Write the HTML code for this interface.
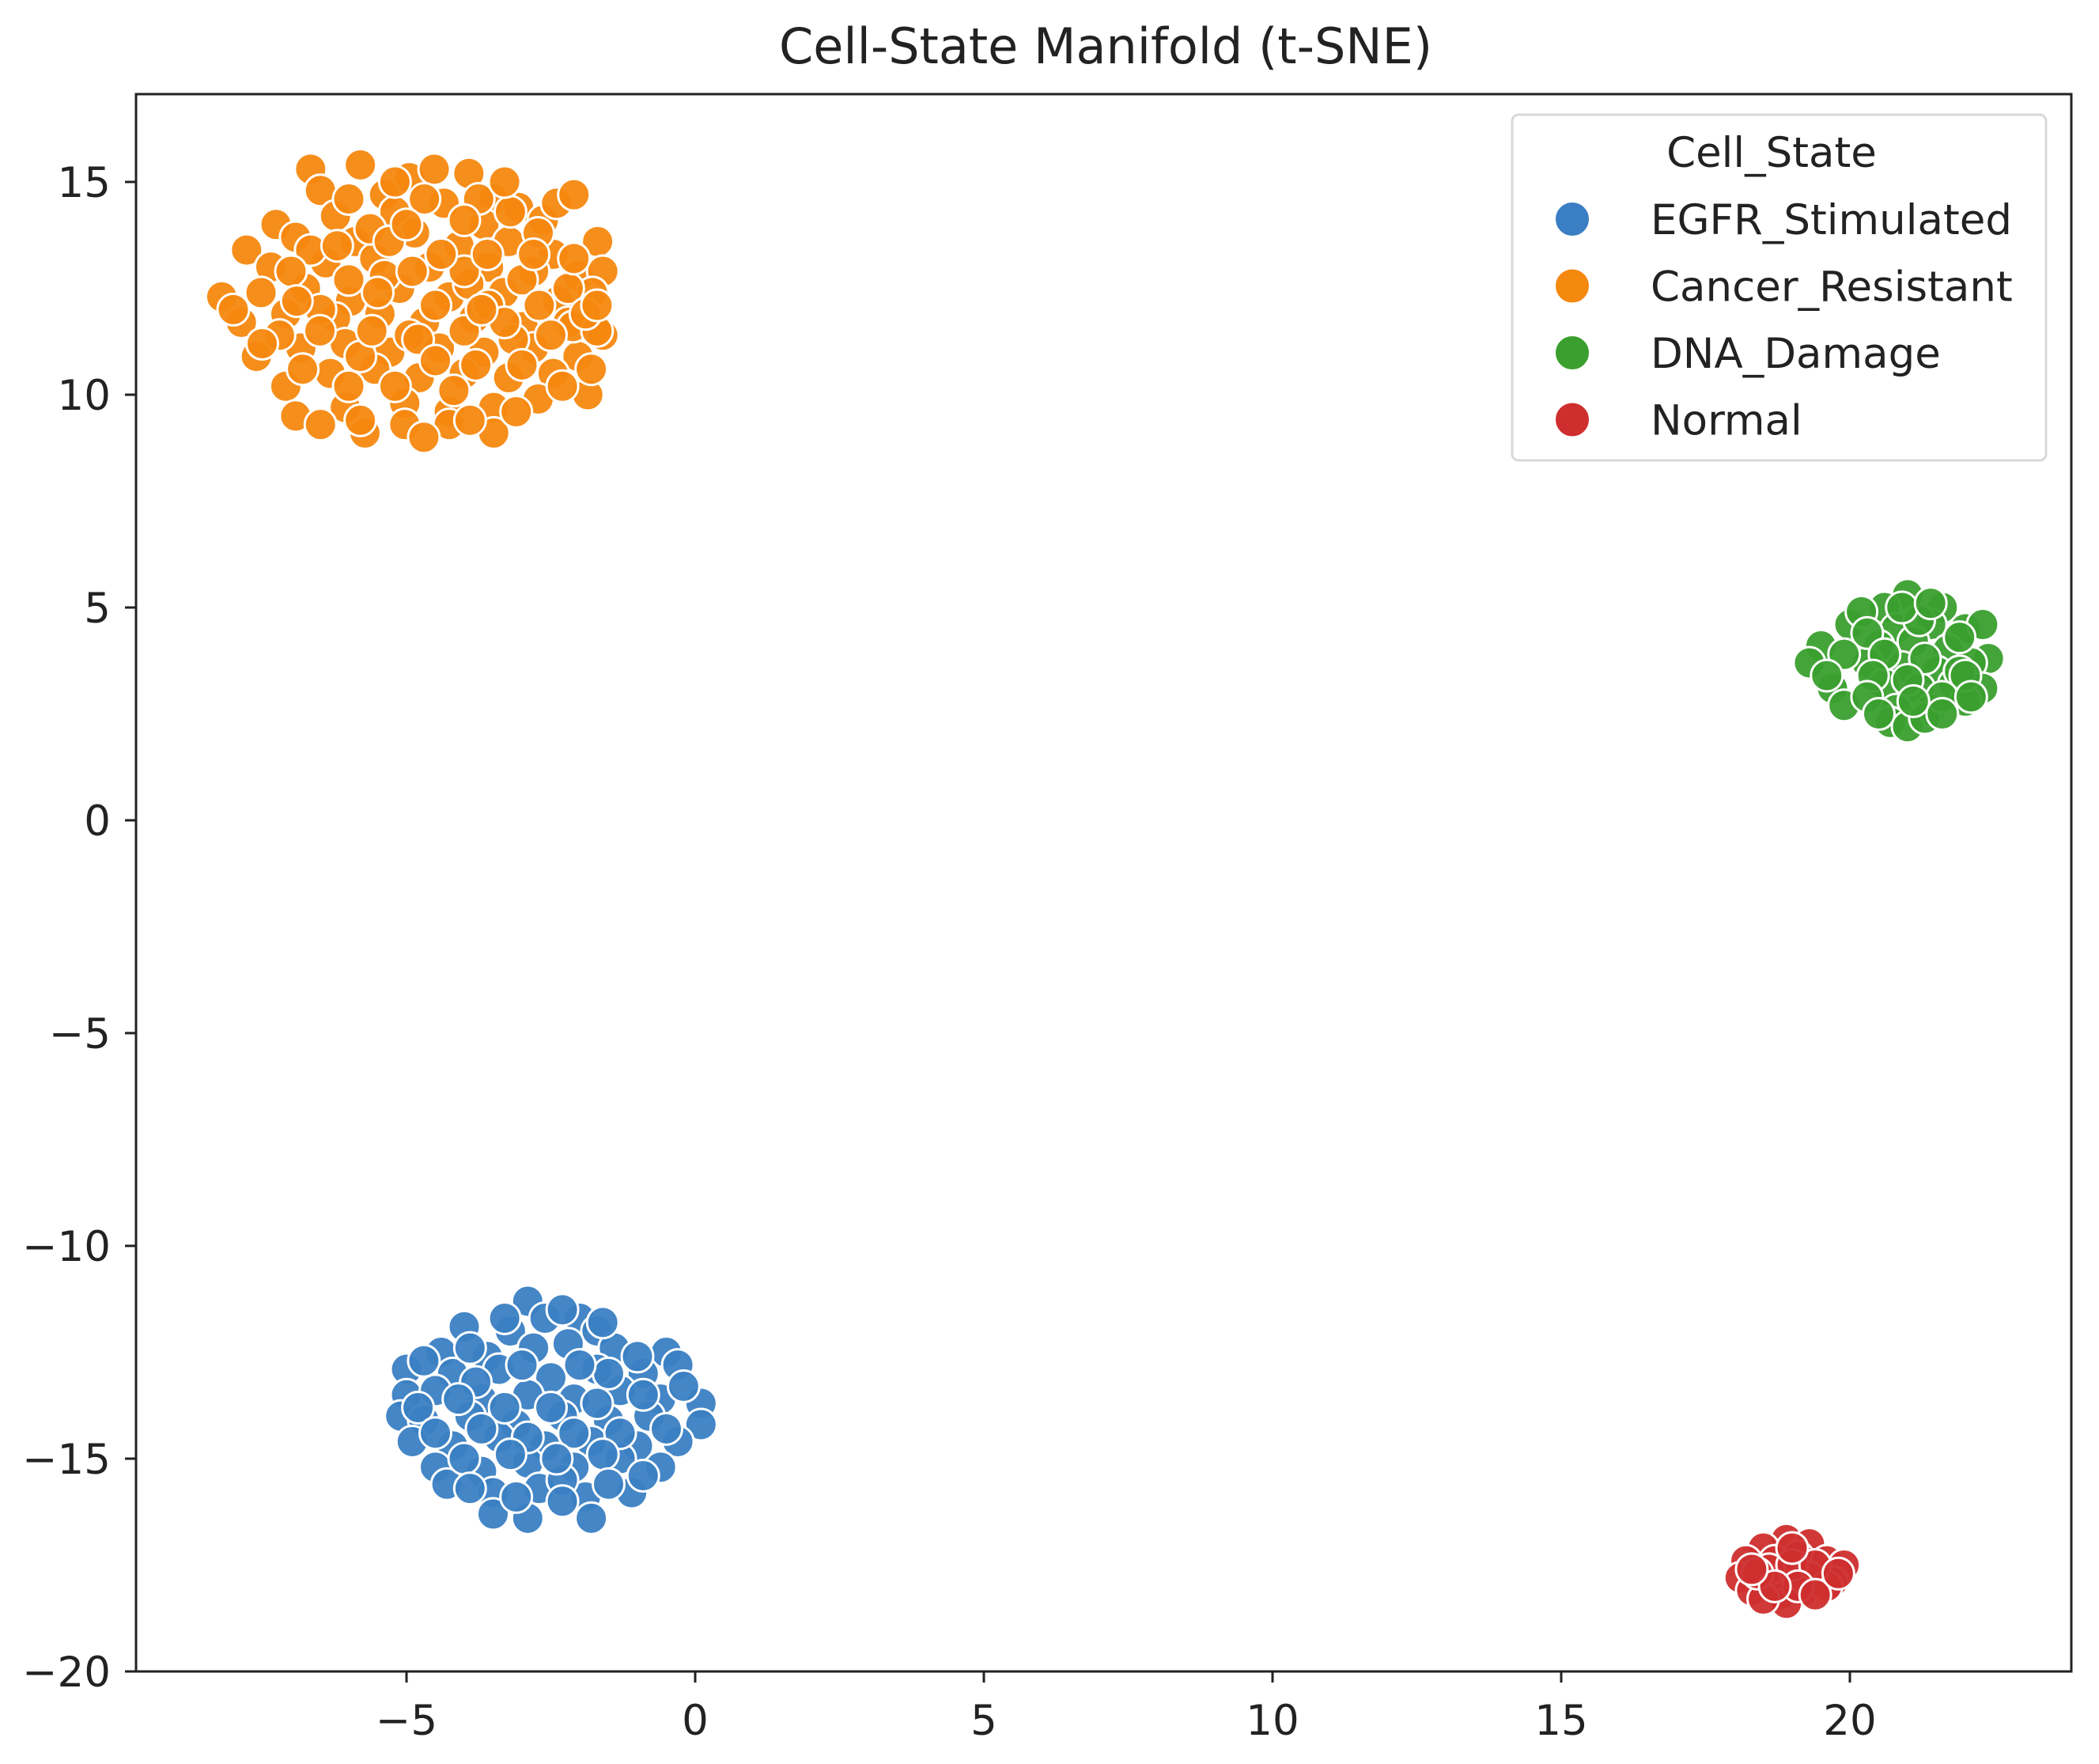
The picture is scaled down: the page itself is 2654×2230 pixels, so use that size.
<!DOCTYPE html>
<html><head><meta charset="utf-8"><style>
html,body{margin:0;padding:0;background:#fff;}
svg{display:block;font-family:"DejaVu Sans","Liberation Sans",sans-serif;}
</style></head><body>
<svg id="chart" width="2654" height="2230" viewBox="0 0 2654 2230" xmlns="http://www.w3.org/2000/svg">
<rect x="0" y="0" width="2654" height="2230" fill="#fff"/>
<text x="1398" y="80" font-size="62" text-anchor="middle" fill="#222">Cell-State Manifold (t-SNE)</text>
<g id="points"></g>
<g id="axes"></g>
<g>
<rect x="1912" y="145" width="675" height="437" rx="8" fill="#fff" fill-opacity="0.85" stroke="#d8d8d8" stroke-width="3"/>
<text x="2240" y="211" font-size="53" text-anchor="middle" fill="#222">Cell_State</text>
<g id="legend-entries"></g>
</g>
</svg>
<script>
const categories = ["EGFR_Stimulated","Cancer_Resistant","DNA_Damage","Normal"];
const colors = ["#3a7fc3","#f5880f","#3a9f2e","#cf2e2e"];
const xTicks = [-5,0,5,10,15,20];
const yTicks = [15,10,5,0,-5,-10,-15,-20];
const egfrPoints = [[-2.9,-11.3],[-2.0,-11.7],[-2.6,-11.7],[-1.7,-12.0],[-3.2,-12.0],[-4.0,-11.9],[-4.4,-12.5],[-3.6,-12.6],[-2.8,-12.4],[-2.2,-12.3],[-1.4,-12.4],[-0.5,-12.5],[-5.0,-12.9],[-4.2,-13.0],[-3.4,-12.9],[-2.5,-13.1],[-1.7,-12.9],[-0.9,-13.0],[-0.3,-12.8],[-5.0,-13.5],[-4.5,-13.4],[-3.7,-13.6],[-2.9,-13.5],[-2.1,-13.6],[-1.3,-13.4],[-0.6,-13.6],[0.1,-13.7],[-5.1,-14.0],[-4.7,-14.1],[-3.9,-14.0],[-3.1,-14.2],[-2.3,-14.0],[-1.5,-14.1],[-0.8,-14.0],[0.1,-14.2],[-4.9,-14.6],[-4.2,-14.7],[-3.4,-14.5],[-2.6,-14.7],[-1.8,-14.6],[-1.0,-14.7],[-0.3,-14.6],[-4.5,-15.2],[-3.7,-15.3],[-2.9,-15.1],[-2.1,-15.2],[-1.3,-15.0],[-0.6,-15.2],[-4.3,-15.6],[-3.5,-15.8],[-2.7,-15.7],[-1.9,-15.9],[-1.1,-15.8],[-3.5,-16.3],[-2.9,-16.4],[-1.8,-16.4],[-2.3,-15.5],[-1.5,-13.0],[-3.8,-13.2],[-4.7,-12.7],[-3.9,-12.4],[-3.0,-12.8],[-2.0,-12.8],[-1.0,-12.6],[-4.8,-13.8],[-4.1,-13.6],[-3.3,-13.8],[-2.5,-13.8],[-1.7,-13.7],[-0.9,-13.5],[-0.2,-13.3],[-4.5,-14.4],[-3.7,-14.3],[-2.9,-14.5],[-2.1,-14.4],[-1.3,-14.4],[-0.5,-14.3],[-4.0,-15.0],[-3.2,-14.9],[-2.4,-15.0],[-1.6,-14.9],[-0.9,-15.4],[-3.9,-15.7],[-3.1,-15.9],[-2.3,-16.0],[-1.5,-15.6],[-3.3,-11.7],[-2.3,-11.5],[-1.6,-11.8]];
const cancerPoints = [[-6.66,15.3],[-5.8,15.4],[-4.95,15.1],[-4.52,15.3],[-3.92,15.2],[-3.49,14.6],[-3.06,14.4],[-6.49,14.8],[-5.38,14.7],[-4.35,14.5],[-7.26,14.0],[-6.23,14.2],[-5.2,14.3],[-3.66,14.0],[-2.63,14.1],[-7.77,13.4],[-6.92,13.7],[-5.89,13.6],[-4.86,13.8],[-4.09,13.5],[-3.23,13.6],[-2.46,13.3],[-1.69,13.6],[-7.35,13.0],[-6.4,13.1],[-5.55,13.2],[-4.6,13.0],[-3.58,13.0],[-2.8,12.9],[-2.03,12.8],[-1.6,12.9],[-8.2,12.3],[-7.52,12.4],[-6.75,12.5],[-5.97,12.2],[-5.12,12.5],[-4.26,12.3],[-3.32,12.4],[-2.38,12.2],[-1.78,12.4],[-7.86,11.7],[-7.09,11.9],[-6.23,11.8],[-5.46,11.9],[-4.69,11.7],[-3.83,11.8],[-2.98,11.6],[-2.2,11.7],[-1.6,11.4],[-7.6,10.9],[-6.83,11.1],[-6.06,11.2],[-5.29,11.0],[-4.43,11.1],[-3.66,11.0],[-2.8,11.1],[-2.03,10.9],[-7.09,10.2],[-6.32,10.5],[-5.55,10.6],[-4.78,10.4],[-4.0,10.5],[-3.23,10.4],[-2.46,10.5],[-1.86,10.0],[-6.92,9.5],[-6.06,9.7],[-5.03,9.8],[-4.26,9.6],[-3.49,9.7],[-2.72,9.9],[-6.49,9.3],[-5.72,9.1],[-5.03,9.3],[-4.26,9.3],[-3.49,9.1],[-5.38,12.8],[-3.92,12.6],[-6.49,12.0],[-3.15,11.3],[-4.95,11.4],[-5.8,10.9],[-4.18,10.1],[-3.58,12.1],[-2.72,13.8],[-4.69,14.6],[-5.63,13.9],[-6.66,13.4],[-3.75,14.6],[-2.12,11.6],[-1.7,11.5],[-7.0,12.9],[-6.0,12.7],[-4.9,12.9],[-4.0,12.9],[-3.0,12.7],[-2.2,12.5],[-7.2,11.4],[-6.5,11.5],[-5.6,11.5],[-4.8,11.3],[-4.0,11.5],[-3.3,11.7],[-2.5,11.4],[-1.9,11.9],[-6.8,10.6],[-6.0,10.2],[-5.2,10.2],[-4.5,10.8],[-3.8,10.7],[-3.0,10.7],[-2.3,10.2],[-6.2,13.5],[-5.3,13.6],[-4.4,13.3],[-3.6,13.3],[-2.8,13.3],[-2.1,13.2],[-6.0,14.6],[-5.0,14.0],[-4.0,14.1],[-3.2,14.3],[-2.4,14.5],[-5.8,9.4],[-4.7,9.0],[-3.9,9.4],[-3.1,9.6],[-7.5,11.2],[-8.0,12.0],[-1.7,12.1],[-1.8,10.6],[-5.5,12.4],[-4.5,12.1],[-3.7,12.0],[-2.7,12.1],[-6.9,12.2],[-2.1,14.7],[-5.2,15.0],[-3.3,15.0]];
const dnaPoints = [[21.0,5.3],[20.6,5.0],[21.6,5.0],[20.0,4.6],[20.8,4.5],[21.4,4.6],[22.0,4.5],[22.3,4.6],[19.5,4.1],[20.5,4.1],[21.1,4.2],[21.7,4.0],[22.4,3.8],[19.3,3.7],[20.3,3.7],[20.9,3.6],[21.5,3.5],[22.1,3.7],[19.7,3.1],[20.6,3.2],[21.2,3.1],[21.8,3.2],[22.3,3.1],[19.9,2.7],[20.8,2.6],[21.4,2.6],[22.0,2.8],[20.7,2.3],[21.0,2.2],[21.3,2.4],[20.2,4.9],[21.9,3.5],[20.3,4.4],[21.2,4.7],[21.9,4.3],[19.9,3.9],[20.6,3.9],[21.3,3.8],[22.0,3.4],[19.6,3.4],[20.4,3.4],[21.0,3.3],[21.6,2.9],[20.3,2.9],[21.1,2.8],[22.1,2.9],[20.5,2.5],[21.6,2.5],[20.9,5.0],[21.4,5.1]];
const normalPoints = [[18.9,-16.9],[18.5,-17.1],[19.3,-17.0],[18.2,-17.4],[18.7,-17.4],[19.1,-17.3],[19.6,-17.4],[19.9,-17.5],[18.1,-17.8],[18.5,-17.9],[18.9,-17.8],[19.3,-17.8],[19.7,-17.9],[18.3,-18.1],[18.8,-18.2],[19.2,-18.1],[19.6,-18.0],[18.9,-18.4],[18.5,-18.3],[18.6,-17.6],[19.0,-17.5],[19.4,-17.5],[18.4,-17.7],[19.1,-18.0],[18.7,-18.0],[19.4,-18.2],[19.0,-17.1],[18.3,-17.6],[19.8,-17.7]];

const NS = "http://www.w3.org/2000/svg";
const L = 172, R = 2619, T = 119, B = 2113;
function sx(v){ return 879 + v * 73.0; }
function sy(v){ return 1037 - v * 53.8; }
function mk(tag, attrs){ const e = document.createElementNS(NS, tag); for (const k in attrs) e.setAttribute(k, attrs[k]); return e; }

const pg = document.getElementById("points");
const series = [egfrPoints, cancerPoints, dnaPoints, normalPoints];
const names = ["egfr","cancer","dna","normal"];
series.forEach((pts, si) => {
  pts.forEach(p => {
    const c = mk("circle", {cx: sx(p[0]), cy: sy(p[1]), r: 20, fill: colors[si], stroke: "#fff", "stroke-width": 3, "fill-opacity": 0.95});
    
    
    pg.appendChild(c);
  });
});

const ax = document.getElementById("axes");
const frame = mk("rect", {x: L, y: T, width: R - L, height: B - T, fill: "none", stroke: "#222", "stroke-width": 3});


ax.appendChild(frame);
xTicks.forEach(v => {
  const x = sx(v);
  const t = mk("line", {x1: x, y1: B, x2: x, y2: B + 14, stroke: "#222", "stroke-width": 3});
  
  
  ax.appendChild(t);
  const lb = mk("text", {x: x, y: B + 80, "font-size": 53, "text-anchor": "middle", fill: "#222"});
  lb.textContent = v < 0 ? "\u2212" + Math.abs(v) : String(v);
  
  
  ax.appendChild(lb);
});
yTicks.forEach(v => {
  const y = sy(v);
  const t = mk("line", {x1: L - 14, y1: y, x2: L, y2: y, stroke: "#222", "stroke-width": 3});
  
  
  ax.appendChild(t);
  const lb = mk("text", {x: L - 32, y: y + 19, "font-size": 53, "text-anchor": "end", fill: "#222"});
  lb.textContent = v < 0 ? "\u2212" + Math.abs(v) : String(v);
  
  
  ax.appendChild(lb);
});

const lg = document.getElementById("legend-entries");
categories.forEach((c, i) => {
  const y = 277 + i * 84.5;
  const d = mk("circle", {cx: 1988, cy: y, r: 22, fill: colors[i], stroke: "#fff", "stroke-width": 2});
  
  
  lg.appendChild(d);
  const t = mk("text", {x: 2087, y: y + 19, "font-size": 53, fill: "#222"});
  t.textContent = c;
  
  
  lg.appendChild(t);
});
</script>
</body></html>
